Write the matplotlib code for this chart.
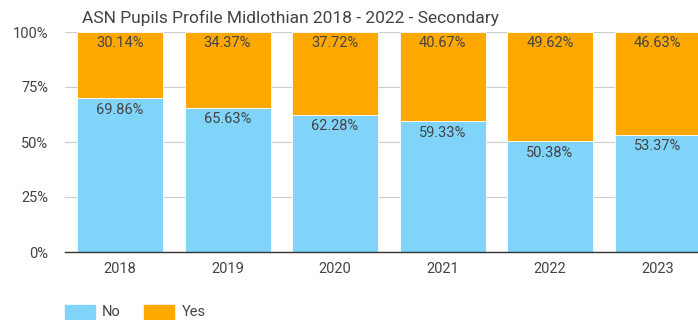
import matplotlib.pyplot as plt
import matplotlib.patches as mpatches
import numpy as np

plt.rcParams['font.family'] = ['Roboto', 'DejaVu Sans']

# Share of ASN pupils per year (percent)
years = ['2018', '2019', '2020', '2021', '2022', '2023']
no_pct = [69.86, 65.63, 62.28, 59.33, 50.38, 53.37]
yes_pct = [30.14, 34.37, 37.72, 40.67, 49.62, 46.63]

blue = '#80D4FA'
orange = '#FFA800'
text_col = '#444444'

W, H = 698, 320
fig = plt.figure(figsize=(W / 100, H / 100), dpi=100)
# axes run past the right edge so the last bar is clipped
ax = fig.add_axes([65 / W, 1 - 252 / H, 645 / W, 220 / H])

x = np.arange(len(years))
ax.bar(x, no_pct, width=0.8, color=blue, edgecolor='white', linewidth=0.6, zorder=2)
ax.bar(x, yes_pct, width=0.8, bottom=no_pct, color=orange, edgecolor='white', linewidth=0.6, zorder=2)

for xi, n, y in zip(x, no_pct, yes_pct):
    ax.text(xi, n - 2.0, f'{n:.2f}%', ha='center', va='top', fontsize=10.5, color=text_col, zorder=3)
    ax.text(xi, 100 - 2.0, f'{y:.2f}%', ha='center', va='top', fontsize=10.5, color=text_col, zorder=3)

ax.set_xlim(-0.512, len(years) - 0.512)
ax.set_ylim(0, 100)
ax.set_yticks([0, 25, 50, 75, 100])
ax.set_yticklabels(['0%', '25%', '50%', '75%', '100%'])
ax.set_xticks(x)
ax.set_xticklabels(years)
ax.tick_params(axis='both', length=0, labelsize=10.5, colors=text_col)
ax.tick_params(axis='y', pad=12)
ax.tick_params(axis='x', pad=7)

ax.grid(axis='y', color='#CCCCCC', linewidth=0.8, zorder=1)
for s in ['top', 'right', 'left']:
    ax.spines[s].set_visible(False)
ax.spines['bottom'].set_color('#333333')
ax.spines['bottom'].set_linewidth(1.0)
ax.spines['bottom'].set_zorder(4)

fig.text(82 / W, 1 - 18 / H, 'ASN Pupils Profile Midlothian 2018 - 2022 - Secondary',
         ha='left', va='center', fontsize=12.5, color=text_col)

handles = [mpatches.Patch(color=blue, label='No'), mpatches.Patch(color=orange, label='Yes')]
fig.legend(handles=handles, loc='center left', bbox_to_anchor=(65 / W, 1 - 312 / H),
           ncol=2, frameon=False, fontsize=10.5, handlelength=2.05, handleheight=1.1,
           handletextpad=0.5, columnspacing=1.6, borderpad=0, borderaxespad=0,
           labelcolor=text_col)

fig.savefig('out.png', dpi=100)
